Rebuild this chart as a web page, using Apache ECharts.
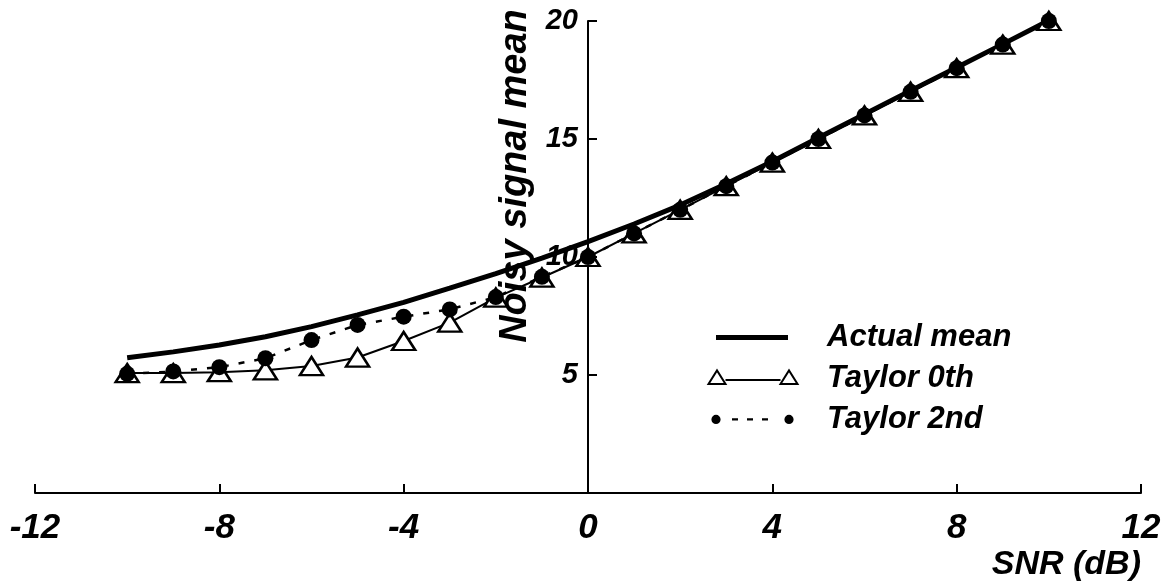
<!DOCTYPE html>
<html><head><meta charset="utf-8">
<script src="https://cdn.jsdelivr.net/npm/echarts@6/dist/echarts.min.js"></script>
<style>html,body{margin:0;padding:0;background:#fff}#c{width:1167px;height:583px}</style>
</head><body><div id="c"></div>
<script>
const snr = [-10,-9,-8,-7,-6,-5,-4,-3,-2,-1,0,1,2,3,4,5,6,7,8,9,10];
const actualMean = [5.73,5.98,6.27,6.62,7.05,7.55,8.08,8.68,9.3,9.95,10.65,11.4,12.2,13.1,14.05,15.05,16.05,17.05,18.03,19.02,20.02];
const taylor0 = [5.08,5.08,5.12,5.2,5.38,5.74,6.44,7.22,8.28,9.13,10,11,12,13,14,15,16,17,18,19,20];
const taylor2 = [5.05,5.15,5.33,5.71,6.48,7.12,7.47,7.78,8.3,9.16,10,11,12,13,14,15,16,17,18,19,20];
const xTicks = [-12,-8,-4,0,4,8,12];
const yTicks = [5,10,15,20];
const seriesNames = ['Actual mean','Taylor 0th','Taylor 2nd'];

const FONT = '"Liberation Sans", Arial, sans-serif';
const pair = (ys) => snr.map((x, i) => [x, ys[i]]);

// layout
const W = 1167, GL = 35, GR = 26;
const xMin = xTicks[0], xMax = xTicks[xTicks.length - 1];
const yAxisShift = (0 - xMin) / (xMax - xMin) * (W - GL - GR); // put y axis at SNR = 0

// legend icons (90 x 16 box; corner points fix the box)
const BOX = 'M0,0 L0,0 M90,16 L90,16 ';
const iconActual = 'path://' + BOX + 'M8,6 L80,6 L80,11 L8,11 Z';
const iconT0 = 'path://' + BOX + 'M0.5,14 L9,0.5 L17.5,14 Z M72.5,14 L81,0.5 L89.5,14 Z M17.5,10 L72.5,10';
const circ = (cx, cy, r) => `M${cx - r},${cy} A${r},${r} 0 1,0 ${cx + r},${cy} A${r},${r} 0 1,0 ${cx - r},${cy} Z `;
const dash = (x) => `M${x},7.2 L${x + 6},7.2 L${x + 6},9.6 L${x},9.6 Z `;
const iconT2 = 'path://' + BOX + circ(8, 8.4, 4.6) + circ(81, 8.4, 4.6) + dash(24) + dash(39) + dash(54);

const chart = echarts.init(document.getElementById('c'), null, {renderer: 'canvas'});
chart.setOption({
  animation: false,
  backgroundColor: '#fff',
  grid: {left: GL, right: GR, top: 21, bottom: 90, containLabel: false, outerBoundsMode: 'none'},
  xAxis: {
    type: 'value', min: xMin, max: xMax, interval: 4,
    axisLine: {show: true, onZero: false, lineStyle: {color: '#000', width: 2}},
    axisTick: {show: true, inside: true, length: 9, lineStyle: {color: '#000', width: 2}},
    axisLabel: {margin: 18, color: '#000', fontFamily: FONT, fontSize: 35, fontWeight: 'bold', fontStyle: 'italic',
      formatter: v => xTicks.includes(v) ? String(v) : ''},
    splitLine: {show: false},
    name: 'SNR (dB)', nameLocation: 'end', nameGap: 0,
    nameTextStyle: {color: '#000', fontFamily: FONT, fontSize: 34, fontWeight: 'bold', fontStyle: 'italic',
      align: 'right', verticalAlign: 'top', padding: [55, 0, 0, 0]}
  },
  yAxis: {
    type: 'value', min: 0, max: 20, interval: 5, offset: -yAxisShift,
    axisLine: {show: true, onZero: false, lineStyle: {color: '#000', width: 2}},
    axisTick: {show: true, inside: true, length: 9, lineStyle: {color: '#000', width: 2}},
    axisLabel: {margin: 10, color: '#000', fontFamily: FONT, fontSize: 29, fontWeight: 'bold', fontStyle: 'italic',
      showMinLabel: false, formatter: v => yTicks.includes(v) ? String(v) : ''},
    splitLine: {show: false},
    name: 'Noisy signal mean', nameLocation: 'middle', nameGap: 37,
    nameTextStyle: {color: '#000', fontFamily: FONT, fontSize: 38, fontWeight: 'bold', fontStyle: 'italic',
      padding: [0, 0, 0, 162]}
  },
  legend: {
    orient: 'vertical', left: 702, top: 316, itemWidth: 90, itemHeight: 16, itemGap: 9, symbolKeepAspect: true,
    data: [
      {name: seriesNames[0], icon: iconActual},
      {name: seriesNames[1], icon: iconT0},
      {name: seriesNames[2], icon: iconT2}
    ],
    textStyle: {color: '#000', fontFamily: FONT, fontSize: 31, fontWeight: 'bold', fontStyle: 'italic',
      lineHeight: 32, padding: [0, 0, 0, 24]}
  },
  series: [
    {name: seriesNames[0], type: 'line', data: pair(actualMean), showSymbol: false, symbol: 'none',
     lineStyle: {color: '#000', width: 5}, itemStyle: {color: '#000'}, z: 2},
    {name: seriesNames[1], type: 'line', data: pair(taylor0), symbol: 'triangle', symbolSize: [23, 18],
     lineStyle: {color: '#000', width: 2}, itemStyle: {color: '#fff', borderColor: '#000', borderWidth: 2.5}, z: 3},
    {name: seriesNames[2], type: 'line', data: pair(taylor2), symbol: 'circle', symbolSize: 16,
     lineStyle: {color: '#000', width: 2.5, type: [6, 10]}, itemStyle: {color: '#000'}, z: 4}
  ]
});
</script>
</body></html>
